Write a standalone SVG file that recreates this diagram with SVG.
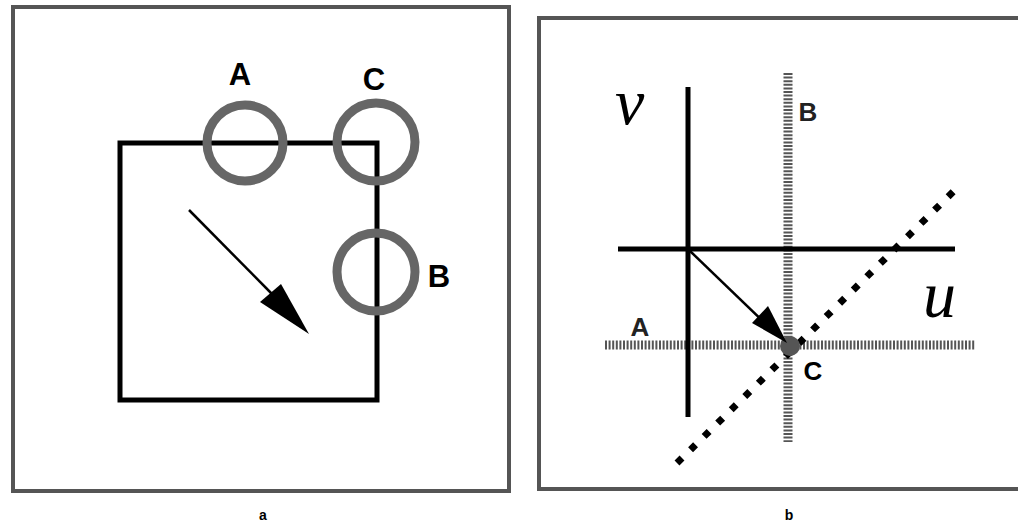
<svg xmlns="http://www.w3.org/2000/svg" width="1018" height="524" viewBox="0 0 1018 524">
<style>
.frame{fill:none;stroke:#555;stroke-width:4}
.solid{fill:none;stroke:#000;stroke-width:5}
.ring{fill:none;stroke:#666;stroke-width:9}
.dash{stroke:#555;stroke-width:9;stroke-dasharray:2 1.6}
.diag{stroke:#000;stroke-width:7;stroke-dasharray:7 12}
.lbl{font-family:"Liberation Sans",Arial,sans-serif;font-weight:bold;fill:#000}
.lbl2{font-family:"Liberation Sans",Arial,sans-serif;font-weight:bold;fill:#222}
.math{font-family:"Liberation Serif","Times New Roman",serif;font-style:italic;fill:#000}
.cap{font-family:"Liberation Sans",Arial,sans-serif;font-weight:bold;font-size:14px;fill:#000}
</style>
<rect width="1018" height="524" fill="#fff"/>
<g id="panel-a">
  <rect class="frame" x="13" y="7" width="496" height="484"/>
  <rect class="solid" x="120" y="143" width="257" height="257"/>
  <g id="ringA"><circle class="ring" cx="245" cy="143" r="38"/><text class="lbl" x="240" y="85" font-size="31" text-anchor="middle">A</text></g>
  <g id="ringC"><circle class="ring" cx="376" cy="142" r="39"/><text class="lbl" x="374" y="90" font-size="31" text-anchor="middle">C</text></g>
  <g id="ringB"><circle class="ring" cx="376" cy="272" r="39"/><text class="lbl" x="439" y="287" font-size="31" text-anchor="middle">B</text></g>
  <g id="arrowA">
    <line x1="189" y1="210" x2="272" y2="294" stroke="#000" stroke-width="2.5"/>
    <polygon points="260,302 281,284 309,334" fill="#000"/>
  </g>
  <text class="cap" x="263" y="520" text-anchor="middle">a</text>
</g>
<g id="panel-b">
  <path class="frame" d="M1018,18 H539 V489 H1018"/>
  <g id="connectors">
    <line class="dash" x1="788" y1="73" x2="788" y2="442"/>
    <line class="dash" x1="605" y1="345" x2="975" y2="345"/>
    <line class="solid" x1="688" y1="87" x2="688" y2="417"/>
    <line class="solid" x1="618" y1="249" x2="955" y2="249"/>
    <line class="diag" x1="677" y1="463" x2="955" y2="190"/>
    <circle cx="790" cy="346" r="10" fill="#555"/>
    <line x1="690" y1="251" x2="770" y2="328" stroke="#000" stroke-width="2.5"/>
    <polygon points="752,323 768,306 787,343" fill="#000"/>
  </g>
  <text class="math" x="615" y="124" font-size="66">v</text>
  <text class="math" x="923" y="317" font-size="66">u</text>
  <text class="lbl2" x="808" y="121" font-size="26" text-anchor="middle">B</text>
  <text class="lbl2" x="640" y="336" font-size="26" text-anchor="middle">A</text>
  <text class="lbl" x="813" y="380" font-size="26" text-anchor="middle">C</text>
  <text class="cap" x="789" y="520" text-anchor="middle">b</text>
</g>
</svg>
